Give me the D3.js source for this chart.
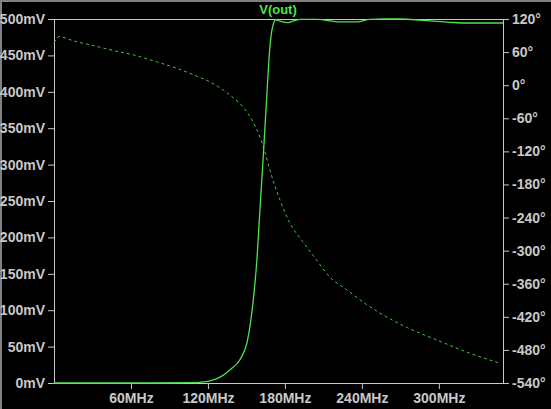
<!DOCTYPE html>
<html>
<head>
<meta charset="utf-8">
<script src="https://cdn.jsdelivr.net/npm/d3@7"></script>
<style>
  html, body { margin: 0; padding: 0; background: #000; }
  svg { display: block; }
  .axis text { font-family: "Liberation Sans", Arial, sans-serif; font-weight: bold; font-size: 14px; fill: #c8c8c8; }
  .axis line { stroke: #c8c8c8; }
</style>
</head>
<body>
<div id="chart"></div>
<script>
// magnitude of V(out), mV vs MHz
const magFreq = [0, 75, 110, 113.8, 121.6, 129.4, 137.1, 144.9, 150.4, 152.7, 155.1, 158.2, 160.5, 162.9, 164.4, 166.0, 167.5, 169.9, 173.0, 176.1, 181.6, 186.2, 191.7, 204.9, 222.9, 236.1, 246.2, 257.9, 269.6, 285.2, 295.3, 308.6, 321.8, 350];
const magVals = [0, 0, 0.5, 1, 3, 8, 18, 32, 55, 77, 110, 170, 237, 305, 350, 398, 443, 485, 499, 497, 495, 497, 499.5, 499.5, 496, 496, 499.5, 500, 500, 498.5, 497, 495.5, 494.5, 494.5];

// phase of V(out), degrees vs MHz
const phFreq = [0, 3.9, 15.6, 31.2, 46.8, 62.3, 77.9, 93.5, 109.1, 124.7, 140.3, 148, 154.3, 160.5, 164.4, 168.3, 176.1, 183.9, 194, 203.4, 215.1, 228.3, 240.8, 254, 275.8, 298.4, 324.2, 347.5];
const phVals = [77, 88, 80, 71.6, 62.5, 54.7, 43.8, 32.4, 18.5, 2, -24, -41, -63, -94, -121, -154, -208, -250, -284, -313, -348, -371, -393, -413, -440, -462, -486, -504];

const magTicks = [0, 50, 100, 150, 200, 250, 300, 350, 400, 450, 500];
const freqTicks = [60, 120, 180, 240, 300];
const phTicks = [-540, -480, -420, -360, -300, -240, -180, -120, -60, 0, 60, 120];

const width = 551, height = 409;
const plotL = 54, plotR = 503, plotT = 19, plotB = 383;

const svg = d3.select("#chart").append("svg")
    .attr("width", width)
    .attr("height", height);

svg.append("rect").attr("width", width).attr("height", height).attr("fill", "#000");

// window edge
svg.append("path")
    .attr("d", `M1,${height}V1H${width}`)
    .attr("fill", "none")
    .attr("stroke", "#808080")
    .attr("stroke-width", 2);

const x = d3.scaleLinear().domain([0, 350]).range([plotL, plotR]);
const yMag = d3.scaleLinear().domain([0, 500]).range([plotB, plotT]);
const yPh = d3.scaleLinear().domain([-540, 120]).range([plotB, plotT]);

svg.append("g")
    .attr("class", "axis")
    .attr("transform", `translate(${plotL},0)`)
    .call(d3.axisLeft(yMag).tickValues(magTicks).tickFormat(d => d + "mV").tickSize(6).tickPadding(3))
    .call(g => g.select(".domain").remove());

svg.append("g")
    .attr("class", "axis")
    .attr("transform", `translate(0,${plotB})`)
    .call(d3.axisBottom(x).tickValues(freqTicks).tickFormat(d => d + "MHz").tickSize(6).tickPadding(4))
    .call(g => g.select(".domain").remove());

svg.append("g")
    .attr("class", "axis")
    .attr("transform", `translate(${plotR},0)`)
    .call(d3.axisRight(yPh).tickValues(phTicks).tickFormat(d => d + "°").tickSize(6).tickPadding(3))
    .call(g => g.select(".domain").remove());

// plot frame
svg.append("rect")
    .attr("x", plotL + 0.5)
    .attr("y", plotT + 0.5)
    .attr("width", plotR - plotL)
    .attr("height", plotB - plotT)
    .attr("fill", "none")
    .attr("stroke", "#c8c8c8");

const magLine = d3.line()
    .x((d, i) => x(magFreq[i]))
    .y(d => yMag(d))
    .curve(d3.curveMonotoneX);

const phLine = d3.line()
    .x((d, i) => x(phFreq[i]))
    .y(d => yPh(d))
    .curve(d3.curveMonotoneX);

svg.append("path")
    .attr("d", phLine(phVals))
    .attr("fill", "none")
    .attr("stroke", "#3cc83c")
    .attr("stroke-width", 1)
    .attr("stroke-dasharray", "3,3");

svg.append("path")
    .attr("d", magLine(magVals))
    .attr("fill", "none")
    .attr("stroke", "#4ee44e")
    .attr("stroke-width", 1.3);

svg.append("text")
    .attr("x", 278)
    .attr("y", 14)
    .attr("text-anchor", "middle")
    .style("font-family", "Liberation Sans, Arial, sans-serif")
    .style("font-weight", "bold")
    .style("font-size", "13px")
    .attr("fill", "#4ee44e")
    .text("V(out)");
</script>
</body>
</html>
